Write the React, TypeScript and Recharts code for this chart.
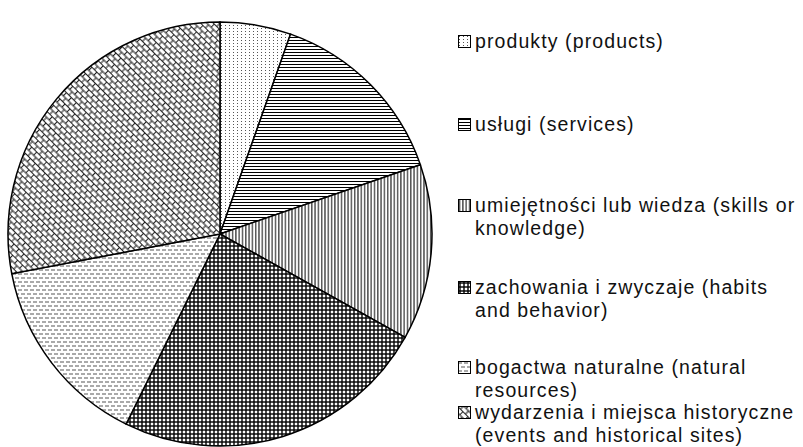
import { PieChart, Pie, Cell, Legend } from 'recharts';

// category labels (each entry split into the lines it is printed on)
const labels: string[][] = [
  ['produkty (products)'],
  ['usługi (services)'],
  ['umiejętności lub wiedza (skills or', 'knowledge)'],
  ['zachowania i zwyczaje (habits', 'and behavior)'],
  ['bogactwa naturalne (natural', 'resources)'],
  ['wydarzenia i miejsca historyczne', '(events and historical sites)'],
];

// share of answers
const shares = [5.4, 14.3, 13.4, 24.2, 14.7, 28.0];

const patternIds = ['dots', 'hlines', 'vlines', 'grid', 'dashes', 'bricks'];

const data = labels.map((lines, i) => ({
  name: lines.join(' '),
  value: shares[i],
}));

// vertical centre of the first line of each legend item
const legendTops = [41, 124, 205, 287, 367, 412.5];

function Patterns() {
  return (
    <svg width={0} height={0} style={{ position: 'absolute' }}>
      <defs>
        <pattern id="dots" width={4} height={3} patternUnits="userSpaceOnUse">
          <rect width={4} height={3} fill="#fff" />
          <rect x={1} y={1} width={1} height={1} fill="#555" />
        </pattern>
        <pattern id="hlines" width={4} height={3} patternUnits="userSpaceOnUse">
          <rect width={4} height={3} fill="#fff" />
          <line x1={0} y1={1.5} x2={4} y2={1.5} stroke="#000" strokeWidth={1} />
        </pattern>
        <pattern id="vlines" width={3.3} height={4} patternUnits="userSpaceOnUse">
          <rect width={3.3} height={4} fill="#fff" />
          <line x1={1.6} y1={0} x2={1.6} y2={4} stroke="#000" strokeWidth={1} />
        </pattern>
        <pattern id="grid" width={4} height={4} patternUnits="userSpaceOnUse">
          <rect width={4} height={4} fill="#fff" />
          <line x1={0} y1={2} x2={4} y2={2} stroke="#000" strokeWidth={1.4} />
          <line x1={2} y1={0} x2={2} y2={4} stroke="#000" strokeWidth={1.4} />
        </pattern>
        <pattern id="dashes" width={6} height={8} patternUnits="userSpaceOnUse">
          <rect width={6} height={8} fill="#fff" />
          <line x1={0} y1={2} x2={4} y2={2} stroke="#555" strokeWidth={1} />
          <line x1={3} y1={6} x2={6} y2={6} stroke="#555" strokeWidth={1} />
          <line x1={0} y1={6} x2={1} y2={6} stroke="#555" strokeWidth={1} />
        </pattern>
        <pattern
          id="bricks"
          width={7}
          height={9}
          patternUnits="userSpaceOnUse"
          patternTransform="rotate(45)"
        >
          <rect width={7} height={9} fill="#fff" />
          <line x1={0} y1={0.5} x2={7} y2={0.5} stroke="#222" strokeWidth={1.1} />
          <line x1={0} y1={5} x2={7} y2={5} stroke="#222" strokeWidth={1.1} />
          <line x1={0.5} y1={0.5} x2={0.5} y2={5} stroke="#222" strokeWidth={1.1} />
          <line x1={4} y1={5} x2={4} y2={9.5} stroke="#222" strokeWidth={1.1} />
        </pattern>
      </defs>
    </svg>
  );
}

function LegendContent() {
  return (
    <div style={{ position: 'relative', width: 353, height: 447 }}>
      {labels.map((lines, i) => (
        <div
          key={i}
          style={{ position: 'absolute', left: 0, top: legendTops[i] - 11.5 }}
        >
          <svg
            width={13}
            height={13}
            style={{ position: 'absolute', left: 8, top: 5 }}
          >
            <rect
              x={0.5}
              y={0.5}
              width={12}
              height={12}
              fill={`url(#${patternIds[i]})`}
              stroke="#000"
              strokeWidth={1}
            />
          </svg>
          {lines.map((line, j) => (
            <div
              key={j}
              style={{
                position: 'absolute',
                left: 25,
                top: j * 23,
                whiteSpace: 'nowrap',
                fontFamily: '"Liberation Sans", Arial, sans-serif',
                fontSize: 19.5,
                letterSpacing: 1.1,
                lineHeight: '23px',
                color: '#111',
              }}
            >
              {line}
            </div>
          ))}
        </div>
      ))}
    </div>
  );
}

export default function App() {
  return (
    <div style={{ position: 'absolute', left: 0, top: 0, background: '#fff' }}>
      <Patterns />
      <PieChart width={803} height={447} margin={{ top: 0, right: 0, bottom: 0, left: 0 }}>
        <Pie
          data={data}
          dataKey="value"
          nameKey="name"
          cx={220}
          cy={234}
          outerRadius={212}
          startAngle={90}
          endAngle={-270}
          stroke="#000"
          strokeWidth={1.5}
          isAnimationActive={false}
        >
          {data.map((_, i) => (
            <Cell key={i} fill={`url(#${patternIds[i]})`} />
          ))}
        </Pie>
        <Legend
          content={<LegendContent />}
          wrapperStyle={{ left: 450, top: 0, width: 353, height: 447 }}
        />
      </PieChart>
    </div>
  );
}
